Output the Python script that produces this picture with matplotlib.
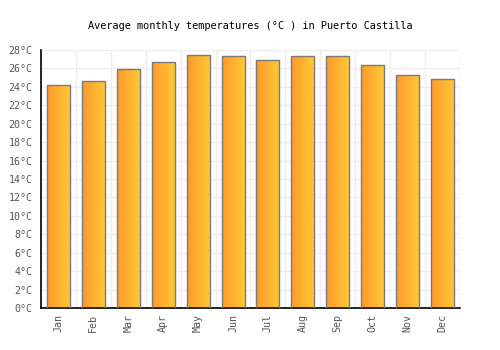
import matplotlib
matplotlib.use("Agg")
import matplotlib.pyplot as plt
import numpy as np
from matplotlib.colors import LinearSegmentedColormap

months = ["Jan", "Feb", "Mar", "Apr", "May", "Jun", "Jul", "Aug", "Sep", "Oct", "Nov", "Dec"]
temps = [24.2, 24.6, 25.9, 26.7, 27.5, 27.4, 26.9, 27.3, 27.3, 26.4, 25.3, 24.8]
yticks = list(range(0, 29, 2))
ytick_labels = [f"{v}°C" for v in yticks]
title = "Average monthly temperatures (°C ) in Puerto Castilla"

plt.rcParams['font.family'] = ['DejaVu Sans Mono']

fig = plt.figure(figsize=(5, 3.5), dpi=100)
ax = fig.add_axes([41/500, 1 - 308/350, (460 - 41)/500, (308 - 50)/350])

x = np.arange(len(months))
bars = ax.bar(x, temps, width=0.66, facecolor='none', edgecolor='#7a7a7a', linewidth=1.0, zorder=3)

cmap = LinearSegmentedColormap.from_list('g', ['#ff9a2e', '#ffc935'])
grad = np.linspace(0, 1, 64).reshape(1, -1)
for b in bars:
    x0, y0 = b.get_x(), b.get_y()
    w, h = b.get_width(), b.get_height()
    im = ax.imshow(grad, cmap=cmap, aspect='auto', extent=(x0, x0 + w, y0, y0 + h),
                   zorder=2, interpolation='bilinear')
    im.set_clip_path(b)

ax.set_xlim(-0.5, len(months) - 0.5)
ax.set_ylim(0, 28)
ax.set_yticks(yticks)
ax.set_yticklabels(ytick_labels)
ax.set_xticks(x)
ax.set_xticklabels(months, rotation=90)
ax.set_xticks(np.arange(-0.5, len(months)), minor=True)
ax.grid(False)
ax.grid(True, which='minor', axis='x', color='#eeeeee', linewidth=1, zorder=0)
ax.grid(True, which='major', axis='y', color='#eeeeee', linewidth=1, zorder=0)
ax.set_axisbelow(True)
ax.tick_params(axis='both', which='both', length=0, labelsize=7.2, colors='#555555', pad=4)
ax.tick_params(axis='y', pad=6)
for s in ['top', 'right']:
    ax.spines[s].set_visible(False)
for s in ['left', 'bottom']:
    ax.spines[s].set_color('black')
    ax.spines[s].set_linewidth(1.2)

fig.text(0.5, 1 - 26/350, title, ha='center', va='center', fontsize=7.4, color='black')

fig.savefig("out.png", dpi=100)
